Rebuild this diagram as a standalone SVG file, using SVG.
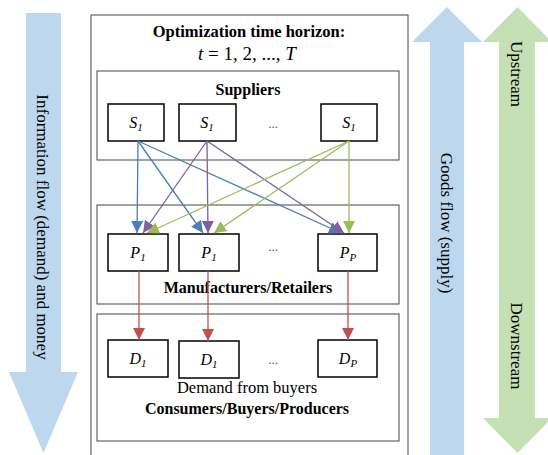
<svg xmlns="http://www.w3.org/2000/svg" width="548" height="455" viewBox="0 0 548 455">
<style>
.box{fill:#fff;stroke:#000;stroke-width:1.5}
.frame{fill:#fff;stroke:#444;stroke-width:1}
.lbl{font-size:16px;font-style:italic;text-anchor:middle}
.b{font-weight:bold;text-anchor:middle}
.side{font-size:17px;text-anchor:middle}
.c{fill:none;stroke-width:1.3}
</style>
<defs>
<marker id="mb" markerUnits="userSpaceOnUse" markerWidth="12" markerHeight="12" refX="12" refY="6" orient="auto"><path d="M0,0 L12,6 L0,12 z" fill="#4a7ebb"/></marker>
<marker id="mp" markerUnits="userSpaceOnUse" markerWidth="12" markerHeight="12" refX="12" refY="6" orient="auto"><path d="M0,0 L12,6 L0,12 z" fill="#7f60a0"/></marker>
<marker id="mg" markerUnits="userSpaceOnUse" markerWidth="12" markerHeight="12" refX="12" refY="6" orient="auto"><path d="M0,0 L12,6 L0,12 z" fill="#9bbb59"/></marker>
<marker id="mr" markerUnits="userSpaceOnUse" markerWidth="12" markerHeight="12" refX="12" refY="6" orient="auto"><path d="M0,0 L12,6 L0,12 z" fill="#c0504d"/></marker>
</defs>
<g font-family="Liberation Serif" fill="#000">
<g id="info-flow">
<polygon points="26,13 61,13 61,372 78,372 43.5,453 9,372 26,372" fill="#bdd7ee"/>
<text class="side" transform="translate(37,227) rotate(90)">Information flow (demand) and money</text>
</g>
<g id="goods-flow">
<polygon points="430,455 464,455 464,42 482,42 447,7 412,42 430,42" fill="#bdd7ee"/>
<text class="side" transform="translate(441,223) rotate(90)">Goods flow (supply)</text>
</g>
<g id="stream">
<polygon points="499,42 499,418 483,418 517.5,453 552,418 535,418 535,42 552,42 517.5,7 483,42" fill="#c5e0b4"/>
<text class="side" transform="translate(511,74) rotate(90)">Upstream</text>
<text class="side" transform="translate(511,346) rotate(90)">Downstream</text>
</g>

<g id="horizon">
<rect class="frame" x="91" y="15" width="317" height="445"/>
<text class="b" x="249" y="37" font-size="16.5">Optimization time horizon:</text>
<text x="247" y="60" font-size="19" text-anchor="middle"><tspan font-style="italic">t</tspan> = 1, 2, ..., <tspan font-style="italic">T</tspan></text>
</g>

<g id="suppliers">
<rect class="frame" x="97" y="71" width="302" height="89"/>
<text class="b" x="248" y="95" font-size="16">Suppliers</text>
</g>
<g id="manufacturers">
<rect class="frame" x="97" y="205" width="302" height="99"/>
<text class="b" x="248" y="293" font-size="16">Manufacturers/Retailers</text>
</g>
<g id="consumers">
<rect class="frame" x="97" y="314" width="302" height="127"/>
<text x="247" y="393" font-size="16.5" text-anchor="middle">Demand from buyers</text>
<text class="b" x="247" y="414" font-size="16">Consumers/Buyers/Producers</text>
</g>

<g id="S1"><rect class="box" x="108" y="104" width="56" height="37"/><text class="lbl" x="136" y="128">S<tspan font-size="11" dy="3">1</tspan></text></g>
<g id="S2"><rect class="box" x="179" y="104" width="57" height="37"/><text class="lbl" x="207" y="128">S<tspan font-size="11" dy="3">1</tspan></text></g>
<g id="S3"><rect class="box" x="321" y="104" width="56" height="37"/><text class="lbl" x="349" y="128">S<tspan font-size="11" dy="3">1</tspan></text></g>
<text x="273" y="128" font-size="13" text-anchor="middle" fill="#555">...</text>

<g id="P1"><rect class="box" x="108" y="234" width="60" height="37"/><text class="lbl" x="138" y="258">P<tspan font-size="11" dy="3">1</tspan></text></g>
<g id="P2"><rect class="box" x="179" y="234" width="60" height="37"/><text class="lbl" x="209" y="258">P<tspan font-size="11" dy="3">1</tspan></text></g>
<g id="PP"><rect class="box" x="318" y="234" width="59" height="37"/><text class="lbl" x="348" y="258">P<tspan font-size="11" dy="3">P</tspan></text></g>
<text x="273" y="251" font-size="13" text-anchor="middle" fill="#555">...</text>

<g id="D1"><rect class="box" x="108" y="340" width="60" height="37"/><text class="lbl" x="138" y="364">D<tspan font-size="11" dy="3">1</tspan></text></g>
<g id="D2"><rect class="box" x="179" y="341" width="60" height="37"/><text class="lbl" x="209" y="365">D<tspan font-size="11" dy="3">1</tspan></text></g>
<g id="DP"><rect class="box" x="318" y="340" width="59" height="37"/><text class="lbl" x="348" y="364">D<tspan font-size="11" dy="3">P</tspan></text></g>
<text x="273" y="364" font-size="13" text-anchor="middle" fill="#555">...</text>
</g>
<g id="connectors">
<line class="c" stroke="#4a7ebb" x1="138" y1="141" x2="137" y2="233" marker-end="url(#mb)"/>
<line class="c" stroke="#4a7ebb" x1="138" y1="141" x2="203" y2="233" marker-end="url(#mb)"/>
<line class="c" stroke="#4a7ebb" x1="138" y1="141" x2="341" y2="233" marker-end="url(#mb)"/>
<line class="c" stroke="#7f60a0" x1="207" y1="141" x2="143" y2="233" marker-end="url(#mp)"/>
<line class="c" stroke="#7f60a0" x1="207" y1="141" x2="208" y2="233" marker-end="url(#mp)"/>
<line class="c" stroke="#7f60a0" x1="207" y1="141" x2="344" y2="233" marker-end="url(#mp)"/>
<line class="c" stroke="#9bbb59" x1="349" y1="141" x2="147" y2="233" marker-end="url(#mg)"/>
<line class="c" stroke="#9bbb59" x1="349" y1="141" x2="214" y2="233" marker-end="url(#mg)"/>
<line class="c" stroke="#9bbb59" x1="349" y1="141" x2="349" y2="233" marker-end="url(#mg)"/>
<line class="c" stroke="#c0504d" x1="139" y1="271" x2="139" y2="340" marker-end="url(#mr)"/>
<line class="c" stroke="#c0504d" x1="208" y1="271" x2="208" y2="341" marker-end="url(#mr)"/>
<line class="c" stroke="#c0504d" x1="348" y1="271" x2="348" y2="340" marker-end="url(#mr)"/>
</g>
</svg>
